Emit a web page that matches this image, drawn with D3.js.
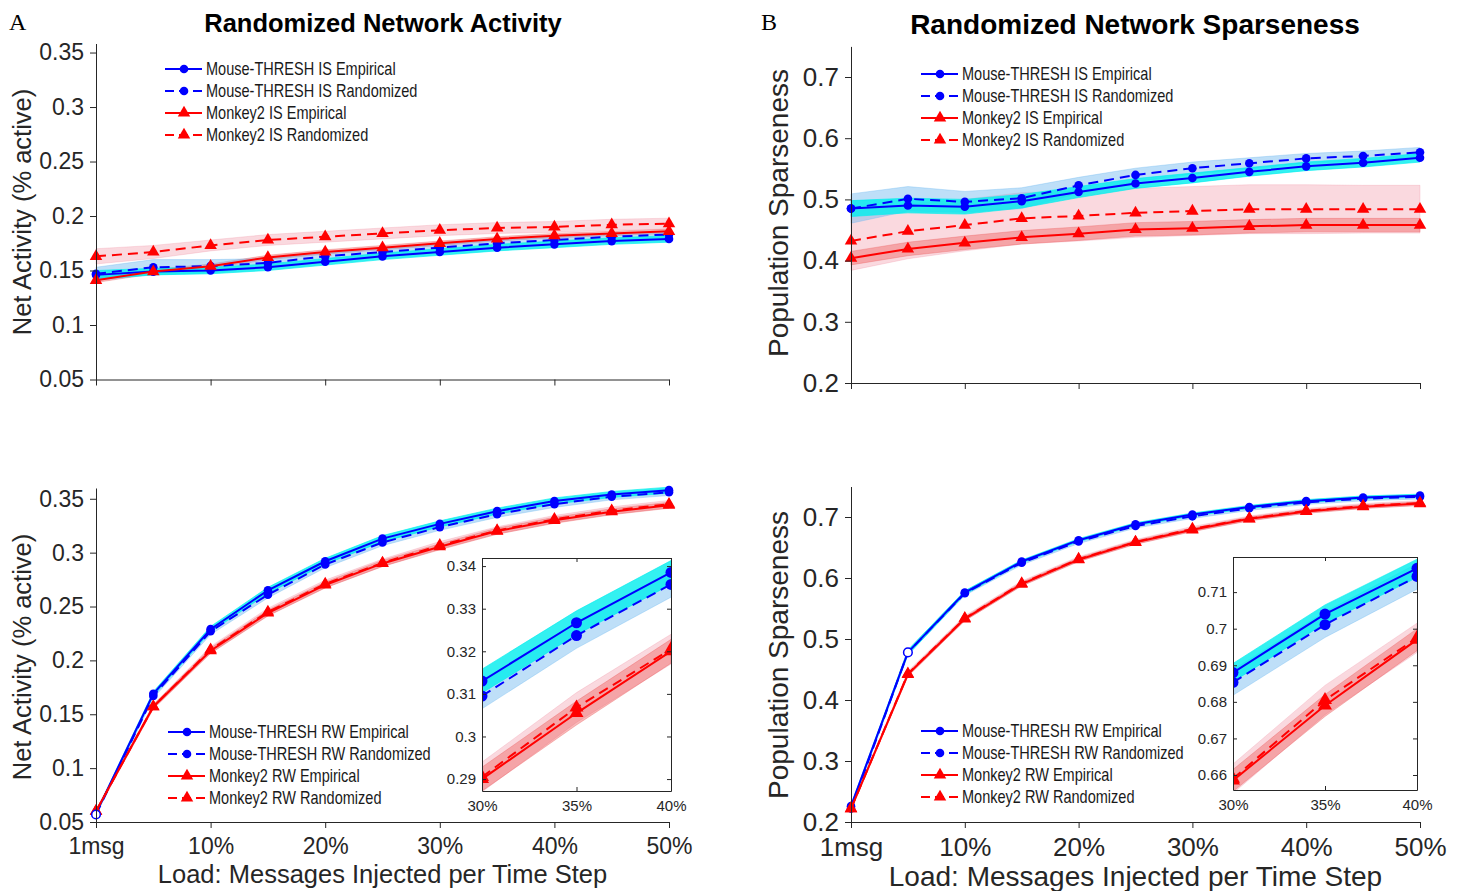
<!DOCTYPE html>
<html><head><meta charset="utf-8">
<script src="https://cdn.jsdelivr.net/npm/d3@7"></script>
<style>body{margin:0;background:#fff}svg{display:block}</style>
</head><body>
<svg id="c" width="1460" height="891"></svg>
<script>
// ---------------- DATA ----------------
const loads = [0, 5, 10, 15, 20, 25, 30, 35, 40, 45, 50];
const xTickVals = [0, 10, 20, 30, 40, 50];
const xTickLabels = ["1msg", "10%", "20%", "30%", "40%", "50%"];
const insetTickVals = [25, 30, 35];
const insetTickLabels = ["30%", "35%", "40%"];

const actTicks = [0.05, 0.1, 0.15, 0.2, 0.25, 0.3, 0.35];
const actTickLabels = ["0.05", "0.1", "0.15", "0.2", "0.25", "0.3", "0.35"];
const sparTicks = [0.2, 0.3, 0.4, 0.5, 0.6, 0.7];
const sparTickLabels = ["0.2", "0.3", "0.4", "0.5", "0.6", "0.7"];
const actInsetTicks = [0.29, 0.30, 0.31, 0.32, 0.33, 0.34];
const actInsetTickLabels = ["0.29", "0.3", "0.31", "0.32", "0.33", "0.34"];
const sparInsetTicks = [0.66, 0.67, 0.68, 0.69, 0.70, 0.71];
const sparInsetTickLabels = ["0.66", "0.67", "0.68", "0.69", "0.7", "0.71"];

const legendIS = ["Mouse-THRESH IS Empirical", "Mouse-THRESH IS Randomized", "Monkey2 IS Empirical", "Monkey2 IS Randomized"];
const legendRW = ["Mouse-THRESH RW Empirical", "Mouse-THRESH RW Randomized", "Monkey2 RW Empirical", "Monkey2 RW Randomized"];

// A (top): Net activity, IS
const actIS_mouseEmp = [0.146, 0.149, 0.150, 0.153, 0.158, 0.163, 0.167, 0.171, 0.174, 0.177, 0.179];
const actIS_mouseRnd = [0.147, 0.153, 0.154, 0.157, 0.163, 0.167, 0.171, 0.175, 0.178, 0.181, 0.183];
const actIS_monkEmp  = [0.141, 0.149, 0.154, 0.162, 0.167, 0.171, 0.175, 0.179, 0.182, 0.184, 0.186];
const actIS_monkRnd  = [0.163, 0.167, 0.173, 0.178, 0.181, 0.184, 0.187, 0.189, 0.190, 0.192, 0.193];
const actIS_mouseEmpErr = [0.004, 0.003, 0.003, 0.003, 0.003, 0.003, 0.003, 0.003, 0.003, 0.003, 0.003];
const actIS_mouseRndErr = [0.006, 0.007, 0.006, 0.004, 0.003, 0.003, 0.003, 0.003, 0.003, 0.003, 0.003];
const actIS_monkEmpErr  = [0.002, 0.002, 0.002, 0.002, 0.002, 0.002, 0.002, 0.002, 0.002, 0.002, 0.002];
const actIS_monkRndErr  = [0.007, 0.006, 0.005, 0.005, 0.005, 0.005, 0.005, 0.005, 0.005, 0.005, 0.005];

// B (top): Population sparseness, IS
const sparIS_mouseEmp = [0.485, 0.490, 0.488, 0.497, 0.512, 0.526, 0.535, 0.545, 0.554, 0.560, 0.568];
const sparIS_mouseRnd = [0.485, 0.501, 0.496, 0.502, 0.523, 0.540, 0.551, 0.559, 0.567, 0.571, 0.577];
const sparIS_monkEmp  = [0.404, 0.419, 0.429, 0.438, 0.444, 0.451, 0.453, 0.456, 0.458, 0.458, 0.458];
const sparIS_monkRnd  = [0.432, 0.448, 0.458, 0.469, 0.473, 0.478, 0.481, 0.484, 0.484, 0.484, 0.484];
const sparIS_mouseEmpErr = [0.013, 0.012, 0.012, 0.011, 0.009, 0.008, 0.008, 0.007, 0.007, 0.007, 0.007];
const sparIS_mouseRndErr = [0.024, 0.020, 0.017, 0.017, 0.013, 0.011, 0.010, 0.009, 0.008, 0.008, 0.008];
const sparIS_monkEmpErr  = [0.011, 0.011, 0.011, 0.011, 0.011, 0.011, 0.011, 0.011, 0.011, 0.011, 0.011];
const sparIS_monkRndErr  = [0.048, 0.045, 0.042, 0.042, 0.041, 0.040, 0.040, 0.040, 0.040, 0.039, 0.039];

// A (bottom): Net activity, RW
const actRW_mouseEmp = [0.058, 0.169, 0.229, 0.265, 0.292, 0.313, 0.3267, 0.3385, 0.348, 0.354, 0.358];
const actRW_mouseRnd = [0.057, 0.167, 0.227, 0.261, 0.289, 0.3095, 0.3237, 0.3357, 0.345, 0.352, 0.356];
const actRW_monkEmp  = [0.060, 0.157, 0.209, 0.244, 0.270, 0.2900, 0.3055, 0.3200, 0.330, 0.338, 0.344];
const actRW_monkRnd  = [0.060, 0.157, 0.210, 0.245, 0.271, 0.2905, 0.3068, 0.3205, 0.331, 0.339, 0.345];
const actRW_mouseEmpErr = [0.001, 0.002, 0.0025, 0.0028, 0.0028, 0.0028, 0.0028, 0.0028, 0.0028, 0.0028, 0.0028];
const actRW_mouseRndErr = [0.001, 0.002, 0.003, 0.003, 0.003, 0.003, 0.003, 0.003, 0.003, 0.003, 0.003];
const actRW_monkEmpErr  = [0.001, 0.002, 0.0025, 0.0028, 0.0028, 0.0028, 0.0028, 0.0028, 0.0028, 0.0028, 0.0028];
const actRW_monkRndErr  = [0.001, 0.002, 0.003, 0.0035, 0.0035, 0.0035, 0.0035, 0.0035, 0.0035, 0.0035, 0.0035];

// B (bottom): Population sparseness, RW
const sparRW_mouseEmp = [0.226, 0.478, 0.576, 0.627, 0.662, 0.688, 0.704, 0.7165, 0.726, 0.732, 0.735];
const sparRW_mouseRnd = [0.222, 0.478, 0.575, 0.625, 0.660, 0.6853, 0.7011, 0.7143, 0.724, 0.730, 0.733];
const sparRW_monkEmp  = [0.222, 0.442, 0.533, 0.590, 0.630, 0.6585, 0.679, 0.697, 0.709, 0.717, 0.722];
const sparRW_monkRnd  = [0.222, 0.443, 0.534, 0.591, 0.631, 0.659, 0.6805, 0.6975, 0.710, 0.718, 0.723];
const sparRW_mouseEmpErr = [0.002, 0.004, 0.003, 0.0025, 0.0025, 0.0025, 0.0025, 0.0025, 0.0025, 0.0025, 0.0025];
const sparRW_mouseRndErr = [0.002, 0.004, 0.0035, 0.0035, 0.0035, 0.0035, 0.0035, 0.0035, 0.0035, 0.0035, 0.0035];
const sparRW_monkEmpErr  = [0.002, 0.003, 0.003, 0.003, 0.003, 0.003, 0.003, 0.003, 0.003, 0.003, 0.003];
const sparRW_monkRndErr  = [0.002, 0.004, 0.004, 0.004, 0.004, 0.004, 0.004, 0.004, 0.004, 0.004, 0.004];

// ---------------- STYLE ----------------
const AXC = "#262626";
const FONT = "'Liberation Sans', Arial, Helvetica, sans-serif";
const style = {
  mouseEmp: {color: "#0000ff", dash: null, marker: "circle", band: "rgba(0,238,238,0.80)"},
  mouseRnd: {color: "#0000ff", dash: "10,6", marker: "circle", band: "rgba(110,185,240,0.45)"},
  monkEmp:  {color: "#ff0000", dash: null, marker: "tri", band: "rgba(238,90,90,0.42)"},
  monkRnd:  {color: "#ff0000", dash: "10,6", marker: "tri", band: "rgba(240,130,150,0.30)"}
};
const bandOrder = ["monkRnd", "monkEmp", "mouseRnd", "mouseEmp"];
const lineOrder = ["mouseEmp", "mouseRnd", "monkEmp", "monkRnd"];

const svg = d3.select("#c");

function triPath(s) {
  const h = s * Math.sqrt(3) / 2;
  return `M0,${-h * 2 / 3}L${s / 2},${h / 3}L${-s / 2},${h / 3}Z`;
}
function drawMarker(g, kind, cx, cy, color, big, hollow) {
  if (kind === "circle") {
    g.append("circle").attr("cx", cx).attr("cy", cy).attr("r", big ? 5.5 : 4.3)
      .attr("fill", hollow ? "#fff" : color).attr("stroke", color).attr("stroke-width", hollow ? 1.5 : 0);
  } else {
    g.append("path").attr("d", triPath(big ? 14 : 12.5)).attr("transform", `translate(${cx},${cy})`)
      .attr("fill", color);
  }
}

function styleAxis(ag, size) {
  ag.attr("font-family", FONT).attr("font-size", size);
  ag.selectAll("path,line").attr("stroke", AXC).attr("stroke-width", 1);
  ag.selectAll("text").attr("fill", AXC);
}

function drawSeries(g, x, y, series, idx, big) {
  bandOrder.forEach(k => {
    const s = series[k];
    const pts = idx.map(i => ({x: loads[i], v: s.v[i], e: s.e[i]}));
    const area = d3.area().x(d => x(d.x)).y0(d => y(d.v - d.e)).y1(d => y(d.v + d.e));
    g.append("path").attr("d", area(pts)).attr("fill", style[k].band)
      .attr("stroke", style[k].band).attr("stroke-width", 0.8);
  });
  lineOrder.forEach(k => {
    const s = series[k];
    const pts = idx.map(i => ({x: loads[i], v: s.v[i]}));
    const line = d3.line().x(d => x(d.x)).y(d => y(d.v));
    g.append("path").attr("d", line(pts)).attr("fill", "none")
      .attr("stroke", style[k].color).attr("stroke-width", 2)
      .attr("stroke-dasharray", style[k].dash);
    pts.forEach(d => drawMarker(g, style[k].marker, x(d.x), y(d.v), style[k].color, big, false));
  });
}

function drawPanel(p) {
  const g = svg.append("g");
  const x = d3.scaleLinear().domain([0, 50]).range([p.x0, p.x1]);
  const y = d3.scaleLinear().domain(p.yDom).range([p.yB, p.yT]);
  const idxAll = loads.map((d, i) => i);

  drawSeries(g, x, y, p.series, idxAll, false);
  (p.hollow || []).forEach(h => {
    drawMarker(g, "circle", x(loads[h.i]), y(p.series[h.k].v[h.i]), "#0000ff", false, true);
  });

  const ay = g.append("g").attr("transform", `translate(${p.x0},0)`)
    .call(d3.axisLeft(y).tickValues(p.yTicks).tickFormat((d, i) => p.yTickLabels[i])
      .tickSize(6).tickSizeOuter(0).tickPadding(6));
  styleAxis(ay, p.tickFont);
  const ax = g.append("g").attr("transform", `translate(0,${p.yB})`)
    .call(d3.axisBottom(x).tickValues(xTickVals)
      .tickFormat((d, i) => p.xLabels ? xTickLabels[i] : "")
      .tickSize(6).tickSizeOuter(0).tickPadding(10));
  styleAxis(ax, p.tickFont);

  g.append("text").attr("transform", `translate(${p.ylabX},${p.ylabY}) rotate(-90)`)
    .attr("text-anchor", "middle").attr("font-family", FONT).attr("font-size", p.labFont)
    .attr("fill", AXC).text(p.yLabel);
  if (p.xLabel) {
    g.append("text").attr("x", (p.x0 + p.x1) / 2).attr("y", p.xlabY)
      .attr("text-anchor", "middle").attr("font-family", FONT).attr("font-size", p.labFont)
      .attr("fill", AXC).text(p.xLabel);
  }

  const L = p.legend;
  lineOrder.forEach((k, i) => {
    const ly = L.y + i * 22;
    g.append("line").attr("x1", L.x).attr("x2", L.x + 37).attr("y1", ly).attr("y2", ly)
      .attr("stroke", style[k].color).attr("stroke-width", 2).attr("stroke-dasharray", style[k].dash ? "9,5" : null);
    drawMarker(g, style[k].marker, L.x + 19, ly, style[k].color, false, false);
    g.append("text").attr("transform", `translate(${L.x + 41},${ly + 6}) scale(0.83,1)`)
      .attr("font-family", FONT).attr("font-size", 17.5).attr("fill", "#1a1a1a").text(L.labels[i]);
  });

  if (p.inset) {
    const I = p.inset;
    const ig = svg.append("g");
    const ix = d3.scaleLinear().domain([insetTickVals[0], insetTickVals[2]]).range([I.x0, I.x1]);
    const iy = d3.scaleLinear().domain(I.yDom).range([I.yB, I.yT]);
    const cid = "clip" + I.x0;
    ig.append("clipPath").attr("id", cid).append("rect")
      .attr("x", I.x0).attr("y", I.yT).attr("width", I.x1 - I.x0).attr("height", I.yB - I.yT);
    ig.append("rect").attr("x", I.x0).attr("y", I.yT).attr("width", I.x1 - I.x0).attr("height", I.yB - I.yT).attr("fill", "#fff");
    const dg = ig.append("g").attr("clip-path", `url(#${cid})`);
    drawSeries(dg, ix, iy, p.series, [5, 6, 7], true);
    const l = ig.append("g").attr("transform", `translate(${I.x0},0)`)
      .call(d3.axisLeft(iy).tickValues(I.ticks).tickFormat((d, i) => I.tickLabels[i]).tickSize(-4).tickSizeOuter(0).tickPadding(6));
    styleAxis(l, 15);
    const r = ig.append("g").attr("transform", `translate(${I.x1},0)`)
      .call(d3.axisRight(iy).tickValues(I.ticks).tickFormat("").tickSize(-4).tickSizeOuter(0));
    styleAxis(r, 15);
    const b = ig.append("g").attr("transform", `translate(0,${I.yB})`)
      .call(d3.axisBottom(ix).tickValues(insetTickVals).tickFormat((d, i) => insetTickLabels[i]).tickSize(-4).tickSizeOuter(0).tickPadding(9));
    styleAxis(b, 15);
    const t = ig.append("g").attr("transform", `translate(0,${I.yT})`)
      .call(d3.axisTop(ix).tickValues(insetTickVals).tickFormat("").tickSize(-4).tickSizeOuter(0));
    styleAxis(t, 15);
  }
}

function mk(a, b, c, d, ea, eb, ec, ed) {
  return {mouseEmp: {v: a, e: ea}, mouseRnd: {v: b, e: eb}, monkEmp: {v: c, e: ec}, monkRnd: {v: d, e: ed}};
}

drawPanel({
  x0: 96, x1: 669, yB: 379.5, yT: 43.5, yDom: [0.05, 0.3583],
  yTicks: actTicks, yTickLabels: actTickLabels, xLabels: false, tickFont: 23, labFont: 25.5,
  series: mk(actIS_mouseEmp, actIS_mouseRnd, actIS_monkEmp, actIS_monkRnd, actIS_mouseEmpErr, actIS_mouseRndErr, actIS_monkEmpErr, actIS_monkRndErr),
  yLabel: "Net Activity (% active)", ylabX: 31, ylabY: 212,
  legend: {x: 165, y: 69, labels: legendIS}
});
drawPanel({
  x0: 851, x1: 1420, yB: 383, yT: 46.4, yDom: [0.2, 0.75],
  yTicks: sparTicks, yTickLabels: sparTickLabels, xLabels: false, tickFont: 26, labFont: 28,
  series: mk(sparIS_mouseEmp, sparIS_mouseRnd, sparIS_monkEmp, sparIS_monkRnd, sparIS_mouseEmpErr, sparIS_mouseRndErr, sparIS_monkEmpErr, sparIS_monkRndErr),
  yLabel: "Population Sparseness", ylabX: 788, ylabY: 213,
  legend: {x: 921, y: 74, labels: legendIS}
});
drawPanel({
  x0: 96, x1: 669, yB: 822, yT: 488, yDom: [0.05, 0.36],
  yTicks: actTicks, yTickLabels: actTickLabels, xLabels: true, tickFont: 23, labFont: 25.5,
  series: mk(actRW_mouseEmp, actRW_mouseRnd, actRW_monkEmp, actRW_monkRnd, actRW_mouseEmpErr, actRW_mouseRndErr, actRW_monkEmpErr, actRW_monkRndErr),
  yLabel: "Net Activity (% active)", ylabX: 31, ylabY: 657,
  xLabel: "Load: Messages Injected per Time Step", xlabY: 883,
  legend: {x: 168, y: 732, labels: legendRW},
  hollow: [{k: "mouseRnd", i: 0}],
  inset: {x0: 482, x1: 671, yB: 791, yT: 558, yDom: [0.2872, 0.3419], ticks: actInsetTicks, tickLabels: actInsetTickLabels}
});
drawPanel({
  x0: 851, x1: 1420, yB: 822, yT: 486.5, yDom: [0.2, 0.75],
  yTicks: sparTicks, yTickLabels: sparTickLabels, xLabels: true, tickFont: 26, labFont: 28,
  series: mk(sparRW_mouseEmp, sparRW_mouseRnd, sparRW_monkEmp, sparRW_monkRnd, sparRW_mouseEmpErr, sparRW_mouseRndErr, sparRW_monkEmpErr, sparRW_monkRndErr),
  yLabel: "Population Sparseness", ylabX: 788, ylabY: 655,
  xLabel: "Load: Messages Injected per Time Step", xlabY: 886,
  legend: {x: 921, y: 731, labels: legendRW},
  hollow: [{k: "mouseEmp", i: 1}],
  inset: {x0: 1233, x1: 1417, yB: 790, yT: 557, yDom: [0.6559, 0.7196], ticks: sparInsetTicks, tickLabels: sparInsetTickLabels}
});

svg.append("text").attr("x", 383).attr("y", 32).attr("text-anchor", "middle")
  .attr("font-family", FONT).attr("font-weight", "bold").attr("font-size", 25.5).attr("fill", "#000")
  .text("Randomized Network Activity");
svg.append("text").attr("x", 1135).attr("y", 34).attr("text-anchor", "middle")
  .attr("font-family", FONT).attr("font-weight", "bold").attr("font-size", 28).attr("fill", "#000")
  .text("Randomized Network Sparseness");
svg.append("text").attr("x", 9).attr("y", 30).attr("font-family", "'Liberation Serif', 'Times New Roman', serif")
  .attr("font-size", 24).attr("fill", "#000").text("A");
svg.append("text").attr("x", 761).attr("y", 30).attr("font-family", "'Liberation Serif', 'Times New Roman', serif")
  .attr("font-size", 24).attr("fill", "#000").text("B");
</script>
</body></html>
